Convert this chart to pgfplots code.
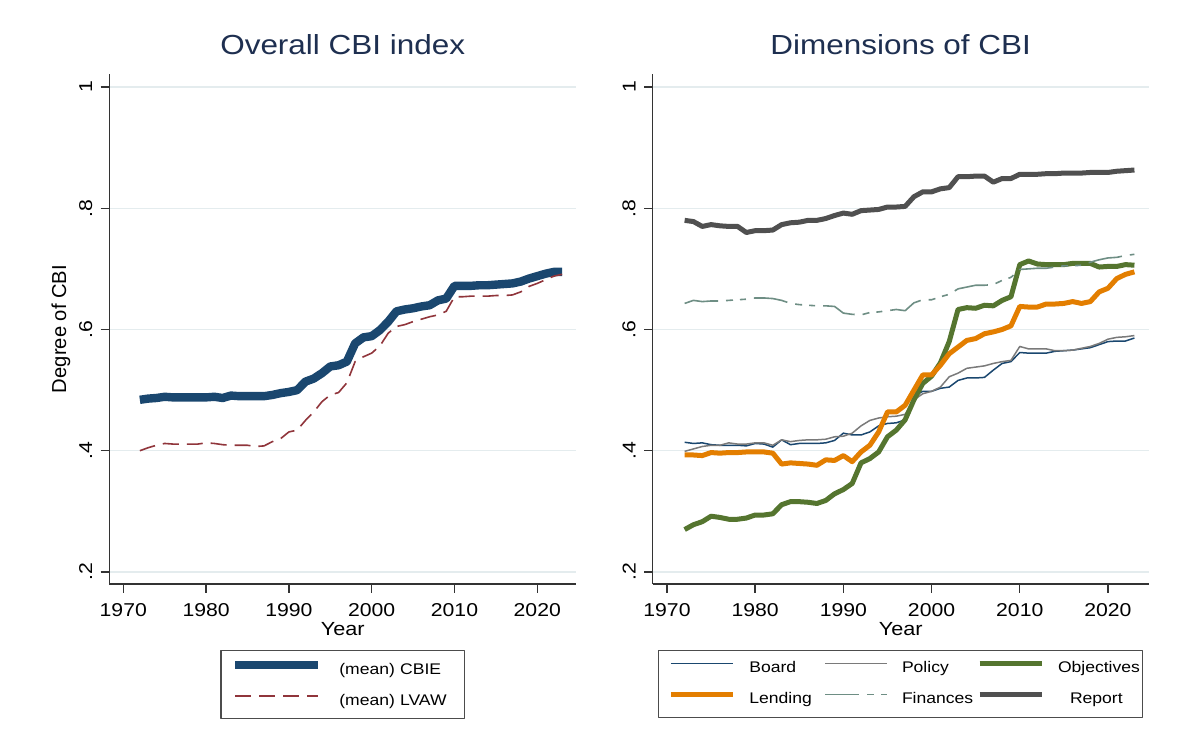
\documentclass[border=0pt]{standalone}
\usepackage{fontspec}
\setmainfont{Liberation Sans}[FakeStretch=1.14]
\newfontfamily\plainsans{Liberation Sans}
\usepackage{pgfplots}
\usepackage{pgfplotstable}
\pgfplotsset{compat=1.18}

\definecolor{navy}{HTML}{1A476F}
\definecolor{maroon}{HTML}{90353B}
\definecolor{forest}{HTML}{55752F}
\definecolor{dkorange}{HTML}{E37E00}
\definecolor{teal}{HTML}{6E8E84}
\definecolor{polgray}{HTML}{7A7A7A}
\definecolor{repgray}{HTML}{505050}
\definecolor{gridc}{RGB}{228,236,238}
\definecolor{titlec}{HTML}{1E2F50}

% overall index, yearly means
\pgfplotstableread{
year cbie lvaw
1972 .484 .400
1973 .486 .405
1974 .487 .409
1975 .489 .412
1976 .488 .411
1977 .488 .411
1978 .488 .411
1979 .488 .411
1980 .488 .413
1981 .489 .412
1982 .487 .410
1983 .491 .409
1984 .490 .409
1985 .490 .409
1986 .490 .407
1987 .490 .408
1988 .492 .415
1989 .495 .420
1990 .497 .431
1991 .500 .434
1992 .514 .450
1993 .519 .464
1994 .528 .481
1995 .539 .492
1996 .541 .496
1997 .547 .512
1998 .577 .547
1999 .587 .555
2000 .589 .561
2001 .599 .573
2002 .613 .594
2003 .630 .605
2004 .633 .608
2005 .635 .613
2006 .638 .617
2007 .640 .621
2008 .648 .624
2009 .651 .630
2010 .672 .654
2011 .672 .654
2012 .672 .655
2013 .673 .655
2014 .673 .655
2015 .674 .656
2016 .675 .656
2017 .676 .657
2018 .679 .662
2019 .684 .671
2020 .688 .676
2021 .692 .682
2022 .695 .688
2023 .695 .691
}\overall

% dimensions
\pgfplotstableread{
year board policy objectives lending finances report
1972 .414 .399 .270 .393 .643 .780
1973 .412 .403 .278 .393 .648 .778
1974 .413 .407 .283 .392 .646 .770
1975 .410 .409 .292 .397 .647 .773
1976 .409 .409 .290 .396 .647 .771
1977 .409 .413 .287 .397 .648 .770
1978 .409 .411 .287 .397 .649 .770
1979 .408 .411 .289 .398 .650 .760
1980 .412 .413 .294 .398 .652 .763
1981 .411 .413 .294 .398 .652 .763
1982 .406 .409 .296 .396 .651 .764
1983 .418 .418 .311 .378 .648 .773
1984 .410 .415 .316 .380 .643 .776
1985 .412 .417 .316 .379 .641 .777
1986 .412 .418 .315 .378 .640 .780
1987 .412 .418 .313 .376 .639 .780
1988 .413 .419 .318 .385 .639 .783
1989 .417 .423 .329 .384 .638 .788
1990 .429 .424 .336 .392 .627 .792
1991 .426 .429 .346 .382 .625 .790
1992 .426 .441 .380 .398 .624 .796
1993 .431 .450 .387 .409 .628 .797
1994 .441 .454 .398 .431 .629 .798
1995 .445 .456 .423 .464 .631 .802
1996 .446 .457 .434 .464 .633 .802
1997 .451 .460 .451 .475 .631 .803
1998 .490 .484 .484 .500 .644 .819
1999 .498 .494 .511 .525 .649 .827
2000 .498 .498 .523 .525 .649 .827
2001 .503 .505 .545 .541 .654 .832
2002 .505 .522 .580 .560 .658 .834
2003 .516 .528 .633 .571 .667 .852
2004 .520 .536 .636 .582 .670 .852
2005 .520 .538 .635 .585 .673 .853
2006 .521 .540 .640 .593 .673 .853
2007 .533 .544 .639 .596 .674 .843
2008 .544 .547 .648 .600 .681 .849
2009 .547 .549 .654 .606 .686 .849
2010 .562 .572 .707 .638 .699 .856
2011 .561 .568 .713 .637 .700 .856
2012 .561 .568 .708 .637 .701 .856
2013 .561 .568 .707 .642 .701 .857
2014 .564 .565 .707 .642 .703 .857
2015 .565 .565 .707 .643 .705 .858
2016 .566 .566 .709 .646 .705 .858
2017 .568 .569 .709 .643 .706 .858
2018 .570 .572 .709 .646 .711 .859
2019 .575 .577 .703 .662 .715 .859
2020 .580 .584 .704 .668 .718 .859
2021 .581 .587 .704 .684 .719 .861
2022 .581 .588 .707 .691 .722 .862
2023 .586 .590 .706 .695 .724 .863
}\dims

\pgfplotsset{
  statastyle/.style={
    scale only axis, height=255pt,
    ymin=0.1802, ymax=1.0214,
    axis x line*=bottom, axis y line*=left,
    axis line style={line width=0.7pt, black!80},
    tick align=outside, major tick length=4.35pt,
    tick style={line width=0.7pt, black!80},
    xtick={1970,1980,1990,2000,2010,2020},
    xticklabels={1970,1980,1990,2000,2010,2020},
    ytick={0.2,0.4,0.6,0.8,1},
    yticklabels={.2,.4,.6,.8,1},
    ymajorgrids, grid style={gridc, line width=0.6pt},
    ticklabel style={font=\fontsize{9.3}{11}\selectfont},
    xticklabel style={anchor=north, inner sep=0pt},
    xticklabel shift=5pt,
    yticklabel style={rotate=90, anchor=south, inner sep=0pt},
    yticklabel shift=4pt,
    title style={at={(axis description cs:0.5,1)}, anchor=base, yshift=4pt,
      font=\fontsize{13.8}{16}\selectfont, text=titlec},
    xlabel={Year},
    xlabel style={at={(axis description cs:0.5,-0.1)}, anchor=base,
      font=\fontsize{9.5}{11}\selectfont},
    legend cell align=left,
    legend style={at={(0.5,-0.1294)}, anchor=north, draw=black!70,
      line width=0.6pt, fill=white, font=\fontsize{7.7}{9}\selectfont,
      inner ysep=5.1pt, row sep=8.3pt},
    line join=round,
  },
}

\begin{document}
\begin{tikzpicture}
\path[use as bounding box] (0,0) rectangle (596pt,374.5pt);

\begin{axis}[
  statastyle,
  at={(54.65pt,82.5pt)}, anchor=south west,
  width=233.4pt,
  xmin=1968.31, xmax=2024.69,
  title={Overall CBI index},
  ylabel={Degree of CBI},
  ylabel style={at={(axis description cs:-0.1035,0.5)}, anchor=center,
    font=\plainsans\fontsize{10.1}{12}\selectfont},
  legend style={inner xsep=5pt,
    nodes={inner sep=0pt, text height=5.6pt, text depth=1.5pt, text width=57.5pt},
    /tikz/every odd column/.append style={column sep=8.5pt}},
  legend image code/.code={\draw[#1] (0pt,2.6pt) -- (41.5pt,2.6pt);},
]
\addplot[navy, line width=4.2pt] table[x=year, y=cbie] {\overall};
\addlegendentry{(mean) CBIE}
\addplot[maroon, line width=0.8pt, dash pattern=on 8pt off 4pt] table[x=year, y=lvaw] {\overall};
\addlegendentry{(mean) LVAW}
\end{axis}

\begin{axis}[
  statastyle,
  at={(326.35pt,82.5pt)}, anchor=south west,
  width=248pt,
  xmin=1968.38, xmax=2024.62,
  title={Dimensions of CBI},
  legend columns=3,
  legend style={inner xsep=4.85pt,
    nodes={inner sep=0pt, text height=5.6pt, text depth=1.5pt, text width=37.5pt},
    /tikz/every odd column/.append style={column sep=7pt}},
  legend image code/.code={\draw[#1] (0pt,2.6pt) -- (31pt,2.6pt);},
]
\addplot[navy, line width=0.75pt] table[x=year, y=board] {\dims};
\addlegendentry{Board}
\addplot[polgray, line width=0.75pt] table[x=year, y=policy] {\dims};
\addlegendentry{Policy}
\addplot[forest, line width=2.5pt] table[x=year, y=objectives] {\dims};
\addlegendentry{Objectives}
\addplot[dkorange, line width=2.5pt] table[x=year, y=lending] {\dims};
\addlegendentry{Lending}
\addplot[teal, line width=0.8pt, dash pattern=on 17pt off 4pt on 3.5pt off 3.5pt on 3pt off 4pt] table[x=year, y=finances] {\dims};
\addlegendentry{Finances}
\addplot[repgray, line width=2.5pt] table[x=year, y=report] {\dims};
\addlegendentry{\hspace*{6pt}Report}
\end{axis}
\end{tikzpicture}
\end{document}
